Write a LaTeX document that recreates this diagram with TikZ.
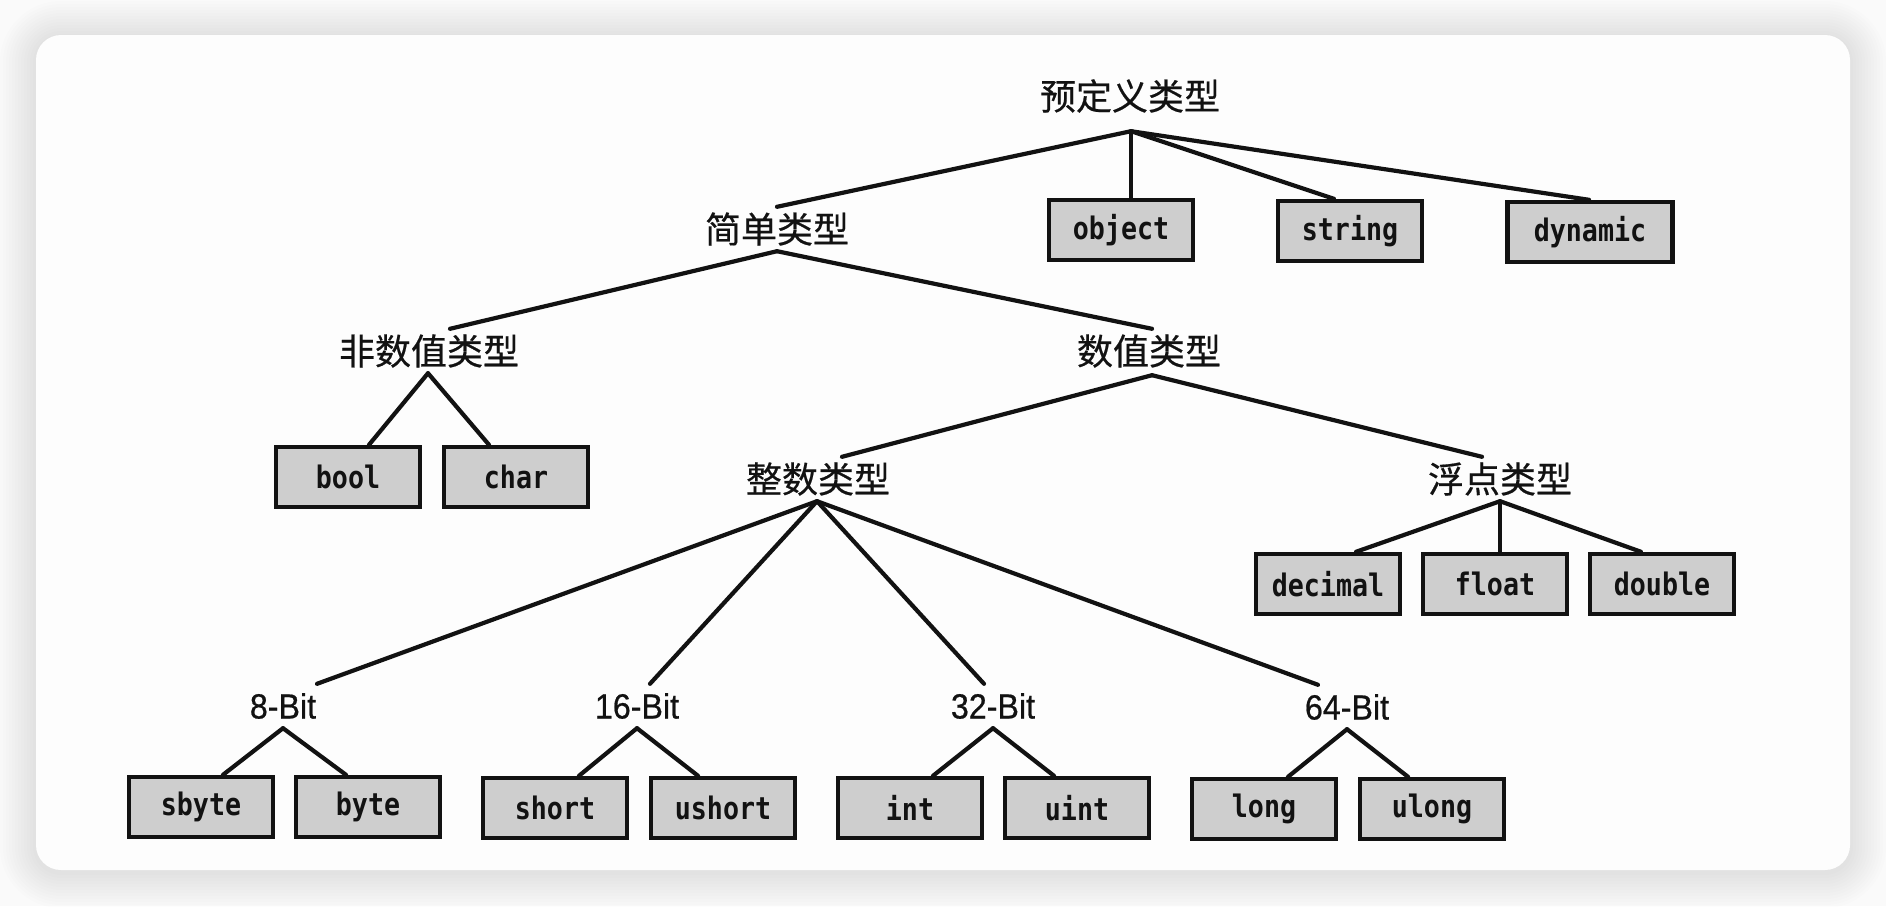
\documentclass[tikz,border=0pt]{standalone}
\usepackage{fontspec}
\setmainfont{Liberation Sans}
\newfontfamily\cjk[FakeBold=0.5]{Noto Sans CJK SC}
\newfontfamily\boxmono[FakeStretch=0.86]{DejaVu Sans Mono}
\newfontfamily\bitfont[FakeStretch=0.92,FakeBold=0.6]{Liberation Sans}
\usetikzlibrary{calc}
\definecolor{boxgray}{RGB}{206,206,206}
\definecolor{inkblack}{RGB}{18,18,18}
\definecolor{cardwhite}{RGB}{253,253,253}
\definecolor{outbg}{RGB}{250,250,250}
\begin{document}
\begin{tikzpicture}[x=1pt,y=-1pt,
  cn/.style={font=\cjk\fontsize{36}{40}\selectfont, text=inkblack, inner sep=0pt, minimum height=44pt},
  bn/.style={font=\bitfont\fontsize{35}{38}\selectfont, text=inkblack, inner sep=0pt, minimum height=44pt},
  leaf/.style={draw=inkblack, line width=4.4pt, fill=boxgray, minimum width=144pt, minimum height=60pt, inner sep=0pt, text=inkblack, font=\boxmono\bfseries\fontsize{31}{34}\selectfont},
  conn/.style={draw=inkblack, line width=4.2pt, line cap=round}
]
\useasboundingbox (0,0) rectangle (1886,906);
\fill[outbg] (0,0) rectangle (1886,906);
\foreach \i in {1,...,12} {
  \pgfmathsetmacro\d{3*\i}
  \pgfmathsetmacro\r{25+3*\i}
  \fill[black, opacity=0.009, rounded corners=\r pt] (36-\d,35-\d+2) rectangle (1850+\d,870+\d+2);
}
\fill[cardwhite, rounded corners=25pt] (36,35) rectangle (1850,870);

% labels
\node[cn] (root) at (1130,96) {预定义类型};
\node[cn] (jd) at (777,229) {简单类型};
\node[cn] (fsz) at (429,351) {非数值类型};
\node[cn] (sz) at (1149,351) {数值类型};
\node[cn] (zs) at (818,479) {整数类型};
\node[cn] (fd) at (1500,479) {浮点类型};
\node[bn] (b8) at (283,706) {8-Bit};
\node[bn] (b16) at (637,706) {16-Bit};
\node[bn] (b32) at (993,706) {32-Bit};
\node[bn] (b64) at (1347,707) {64-Bit};

% leaves
\node[leaf] (obj) at (1121,230) {object};
\node[leaf] (str) at (1350,231) {string};
\node[leaf, minimum width=165pt] (dyn) at (1590,232) {dynamic};
\node[leaf] (bool) at (348,477) {bool};
\node[leaf] (char) at (516,477) {char};
\node[leaf] (dec) at (1328,584) {decimal};
\node[leaf] (flt) at (1495,584) {float};
\node[leaf] (dbl) at (1662,584) {double};
\node[leaf] (sbyte) at (201,807) {sbyte};
\node[leaf] (byte) at (368,807) {byte};
\node[leaf] (short) at (555,808) {short};
\node[leaf] (ushort) at (723,808) {ushort};
\node[leaf] (int) at (910,808) {int};
\node[leaf] (uint) at (1077,808) {uint};
\node[leaf] (long) at (1264,809) {long};
\node[leaf] (ulong) at (1432,809) {ulong};

% connectors
\draw[conn] ($(root.south)+(1,13)$) -- (jd.north);
\draw[conn] ($(root.south)+(1,13)$) -- ($(obj.north)+(10,0)$);
\draw[conn] ($(root.south)+(1,13)$) -- ($(str.north)+(-16,0)$);
\draw[conn] ($(root.south)+(1,13)$) -- ($(dyn.north)+(-1,0)$);

\draw[conn] (jd.south) -- ($(fsz.north)+(21,0)$);
\draw[conn] (jd.south) -- ($(sz.north)+(3,0)$);

\draw[conn] ($(fsz.south)+(-1,0)$) -- ($(bool.north)+(21,0)$);
\draw[conn] ($(fsz.south)+(-1,0)$) -- ($(char.north)+(-27,0)$);

\draw[conn] ($(sz.south)+(3,2)$) -- ($(zs.north)+(24,0)$);
\draw[conn] ($(sz.south)+(3,2)$) -- ($(fd.north)+(-18,0)$);

\draw[conn] (fd.south) -- ($(dec.north)+(28,0)$);
\draw[conn] (fd.south) -- ($(flt.north)+(5,0)$);
\draw[conn] (fd.south) -- ($(dbl.north)+(-21,0)$);

\draw[conn] ($(zs.south)+(-1,0)$) -- ($(b8.north)+(34,0)$);
\draw[conn] ($(zs.south)+(-1,0)$) -- ($(b16.north)+(13,0)$);
\draw[conn] ($(zs.south)+(-1,0)$) -- ($(b32.north)+(-9,0)$);
\draw[conn] ($(zs.south)+(-1,0)$) -- ($(b64.north)+(-29,0)$);

\draw[conn] (b8.south) -- ($(sbyte.north)+(22,0)$);
\draw[conn] (b8.south) -- ($(byte.north)+(-22,0)$);
\draw[conn] (b16.south) -- ($(short.north)+(24,0)$);
\draw[conn] (b16.south) -- ($(ushort.north)+(-25,0)$);
\draw[conn] (b32.south) -- ($(int.north)+(23,0)$);
\draw[conn] (b32.south) -- ($(uint.north)+(-23,0)$);
\draw[conn] (b64.south) -- ($(long.north)+(24,0)$);
\draw[conn] (b64.south) -- ($(ulong.north)+(-24,0)$);
\end{tikzpicture}
\end{document}
